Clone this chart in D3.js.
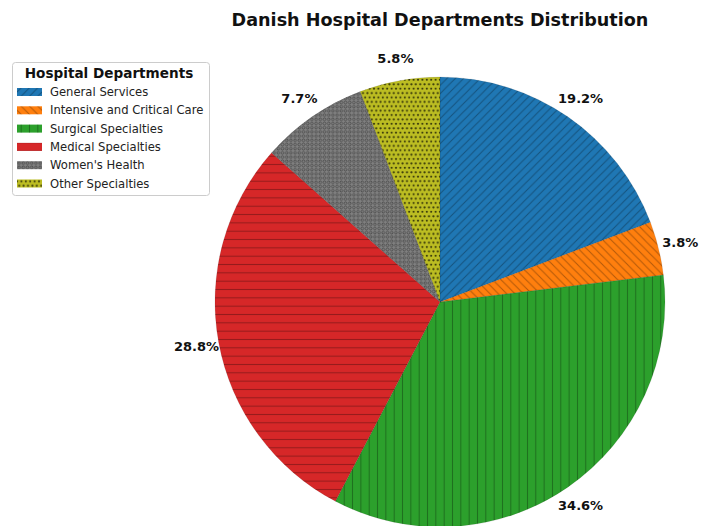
<!DOCTYPE html>
<html>
<head>
<meta charset="utf-8">
<script src="https://cdn.jsdelivr.net/npm/d3@7"></script>
<style>
  body { margin: 0; background: #fff; }
  svg { display: block; font-family: "DejaVu Sans", sans-serif; }
</style>
</head>
<body>
<div id="chart"></div>
<script>
const departments = ["General Services", "Intensive and Critical Care", "Surgical Specialties",
  "Medical Specialties", "Women's Health", "Other Specialties"];
const counts = [10, 2, 18, 15, 4, 3];
const colors = ["#1f77b4", "#ff7f0e", "#2ca02c", "#d62728", "#7f7f7f", "#bcbd22"];
const hatches = ["ne", "nw", "vert", "horiz", "circle", "dot"];

const width = 705, height = 526;
const cx = 440, cy = 302, radius = 225;

const svg = d3.select("#chart").append("svg")
  .attr("width", width)
  .attr("height", height);

const defs = svg.append("defs");
const hatchInk = "rgba(0,0,0,0.3)";

// hatch patterns, like matplotlib's "//", "\\", "|", "-", "o", "."
const addPattern = (id, w, h, draw) => {
  const p = defs.append("pattern")
    .attr("id", id)
    .attr("patternUnits", "userSpaceOnUse")
    .attr("width", w)
    .attr("height", h);
  draw(p);
};
const s = 8.33;
addPattern("ne", s, s, p => p.append("path")
  .attr("d", `M-1,1 L1,-1 M0,${s} L${s},0 M${s - 1},${s + 1} L${s + 1},${s - 1}`)
  .attr("stroke", hatchInk).attr("stroke-width", 1));
addPattern("nw", s, s, p => p.append("path")
  .attr("d", `M${s - 1},-1 L${s + 1},1 M0,0 L${s},${s} M-1,${s - 1} L1,${s + 1}`)
  .attr("stroke", hatchInk).attr("stroke-width", 1));
addPattern("vert", s, s, p => p.append("path")
  .attr("d", `M${s / 2},0 V${s}`)
  .attr("stroke", hatchInk).attr("stroke-width", 1));
addPattern("horiz", s, s, p => p.append("path")
  .attr("d", `M0,${s / 2} H${s}`)
  .attr("stroke", hatchInk).attr("stroke-width", 1));
addPattern("circle", 4.2, 4.2, p => p.append("circle")
  .attr("cx", 2.1).attr("cy", 2.1).attr("r", 1.3)
  .attr("fill", "none").attr("stroke", "rgba(0,0,0,0.4)").attr("stroke-width", 0.8));
addPattern("dot", 4.4, 8.8, p => {
  p.append("circle").attr("cx", 2.2).attr("cy", 2.2).attr("r", 1.1).attr("fill", "rgba(0,0,0,0.7)");
  p.append("circle").attr("cx", 0).attr("cy", 6.6).attr("r", 1.1).attr("fill", "rgba(0,0,0,0.7)");
  p.append("circle").attr("cx", 4.4).attr("cy", 6.6).attr("r", 1.1).attr("fill", "rgba(0,0,0,0.7)");
});

const total = d3.sum(counts);
const pie = d3.pie().sort(null).value(d => d)(counts);
const arc = d3.arc().innerRadius(0).outerRadius(radius);
const labelArc = d3.arc().innerRadius(radius * 1.1).outerRadius(radius * 1.1);

const g = svg.append("g").attr("transform", `translate(${cx},${cy})`);

g.selectAll("path.slice")
  .data(pie)
  .join("path")
  .attr("class", "slice")
  .attr("d", arc)
  .attr("fill", (d, i) => colors[i]);

g.selectAll("path.hatch")
  .data(pie)
  .join("path")
  .attr("class", "hatch")
  .attr("d", arc)
  .attr("fill", (d, i) => `url(#${hatches[i]})`)
  .attr("stroke", "rgba(0,0,0,0.18)")
  .attr("stroke-width", 0.5);

g.selectAll("text.pct")
  .data(pie)
  .join("text")
  .attr("class", "pct")
  .attr("transform", d => `translate(${labelArc.centroid(d)})`)
  .attr("text-anchor", "middle")
  .attr("dominant-baseline", "central")
  .attr("font-size", 13)
  .attr("font-weight", "bold")
  .attr("fill", "#111")
  .text(d => (d.value / total * 100).toFixed(1) + "%");

// title
svg.append("text")
  .attr("x", cx)
  .attr("y", 20)
  .attr("text-anchor", "middle")
  .attr("dominant-baseline", "central")
  .attr("font-size", 17.6)
  .attr("font-weight", "bold")
  .attr("fill", "#111")
  .text("Danish Hospital Departments Distribution");

// legend
const legend = svg.append("g").attr("transform", "translate(12,62)");
legend.append("rect")
  .attr("x", 0.5).attr("y", 0.5)
  .attr("width", 197).attr("height", 133)
  .attr("rx", 3)
  .attr("fill", "#fff")
  .attr("stroke", "#ccc");
legend.append("text")
  .attr("x", 97).attr("y", 11)
  .attr("text-anchor", "middle")
  .attr("dominant-baseline", "central")
  .attr("font-size", 13.6)
  .attr("font-weight", "bold")
  .attr("fill", "#111")
  .text("Hospital Departments");

const item = legend.selectAll("g.item")
  .data(departments)
  .join("g")
  .attr("class", "item")
  .attr("transform", (d, i) => `translate(5,${30 + i * 18.3})`);
item.append("rect")
  .attr("x", 0).attr("y", -4)
  .attr("width", 25).attr("height", 8)
  .attr("fill", (d, i) => colors[i]);
item.append("rect")
  .attr("x", 0).attr("y", -4)
  .attr("width", 25).attr("height", 8)
  .attr("fill", (d, i) => `url(#${hatches[i]})`);
item.append("text")
  .attr("x", 33).attr("y", 0)
  .attr("dominant-baseline", "central")
  .attr("font-size", 11.6)
  .attr("fill", "#222")
  .text(d => d);
</script>
</body>
</html>
